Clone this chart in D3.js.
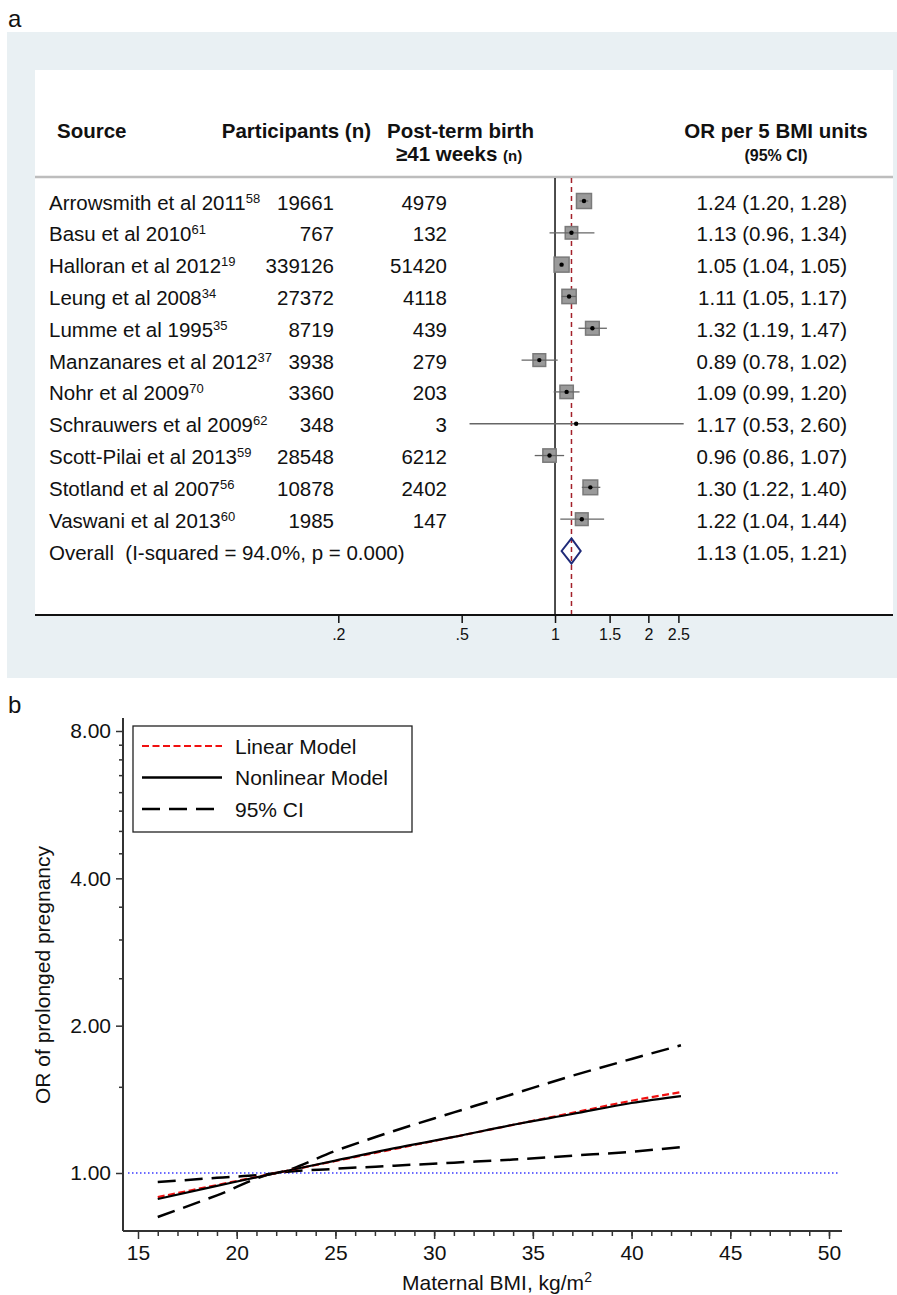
<!DOCTYPE html>
<html>
<head>
<meta charset="utf-8">
<script src="https://cdn.jsdelivr.net/npm/d3@7"></script>
<style>
  body { margin: 0; background: #fff; }
  svg text { font-family: "Liberation Sans", Arial, sans-serif; fill: #111; }
</style>
</head>
<body>
<svg id="chart"></svg>
<script>
// ---- panel a data (forest plot) ----
const studies = ['Arrowsmith et al 2011', 'Basu et al 2010', 'Halloran et al 2012', 'Leung et al 2008',
  'Lumme et al 1995', 'Manzanares et al 2012', 'Nohr et al 2009', 'Schrauwers et al 2009',
  'Scott-Pilai et al 2013', 'Stotland et al 2007', 'Vaswani et al 2013'];
const refs = ['58', '61', '19', '34', '35', '37', '70', '62', '59', '56', '60'];
const participants = [19661, 767, 339126, 27372, 8719, 3938, 3360, 348, 28548, 10878, 1985];
const postTerm = [4979, 132, 51420, 4118, 439, 279, 203, 3, 6212, 2402, 147];
const orEst = [1.24, 1.13, 1.05, 1.11, 1.32, 0.89, 1.09, 1.17, 0.96, 1.30, 1.22];
const ciLow = [1.20, 0.96, 1.04, 1.05, 1.19, 0.78, 0.99, 0.53, 0.86, 1.22, 1.04];
const ciHigh = [1.28, 1.34, 1.05, 1.17, 1.47, 1.02, 1.20, 2.60, 1.07, 1.40, 1.44];
const weights = [11.9, 8.2, 11.9, 10.8, 9.9, 8.5, 9.4, 0.1, 9.4, 11.4, 8.5];
const overall = { label: 'Overall  (I-squared = 94.0%, p = 0.000)', or: 1.13, lo: 1.05, hi: 1.21 };
const forestTicks = [0.2, 0.5, 1, 1.5, 2, 2.5];
const forestTickLabels = ['.2', '.5', '1', '1.5', '2', '2.5'];

// ---- panel b data (dose-response) ----
const bmi = [16, 19, 22, 25, 28, 31, 34, 37, 40, 42.5];
const linearOR = [0.893, 0.945, 1.0, 1.058, 1.12, 1.185, 1.254, 1.327, 1.405, 1.463];
const nonlinearOR = [0.885, 0.941, 1.0, 1.06, 1.124, 1.185, 1.255, 1.32, 1.39, 1.436];
const upperCI = [0.958, 0.978, 1.0, 1.11, 1.22, 1.33, 1.45, 1.58, 1.71, 1.824];
const lowerCI = [0.813, 0.90, 1.0, 1.02, 1.035, 1.05, 1.065, 1.085, 1.105, 1.13];
const yTicks = [1, 2, 4, 8];
const yMinorTicks = [1.5, 2.5, 3, 3.5, 4.5, 5, 5.5, 6, 6.5, 7, 7.5];
const xTicks = [15, 20, 25, 30, 35, 40, 45, 50];

const width = 897, height = 1295;
const svg = d3.select('#chart').attr('width', width).attr('height', height);
const fmt = d3.format('.2f');

function drawForest(svg) {
  svg.append('text').attr('x', 8).attr('y', 27).style('font-size', '24px').text('a');

  svg.append('rect').attr('x', 7).attr('y', 32).attr('width', 890).attr('height', 646).attr('fill', '#e9f0f3');
  svg.append('rect').attr('x', 35).attr('y', 70).attr('width', 858).attr('height', 545).attr('fill', '#fff');

  // header
  const head = svg.append('g').style('font-weight', 'bold').style('font-size', '20.5px');
  head.append('text').attr('x', 57).attr('y', 138).text('Source');
  head.append('text').attr('x', 371).attr('y', 138).attr('text-anchor', 'end').text('Participants (n)');
  head.append('text').attr('x', 387).attr('y', 138).text('Post-term birth');
  const wk = head.append('text').attr('x', 396).attr('y', 161);
  wk.append('tspan').text('≥41 weeks ');
  wk.append('tspan').style('font-size', '15px').text('(n)');
  head.append('text').attr('x', 776).attr('y', 138).attr('text-anchor', 'middle').text('OR per 5 BMI units');
  head.append('text').attr('x', 776).attr('y', 161).attr('text-anchor', 'middle').style('font-size', '16px').text('(95% CI)');

  svg.append('line').attr('x1', 35).attr('x2', 893).attr('y1', 177).attr('y2', 177)
    .attr('stroke', '#bdbdbd').attr('stroke-width', 2.5);

  const x = d3.scaleLog().domain([0.2, 2.5]).range([338.3, 678.4]);
  const y = d3.scalePoint().domain(d3.range(studies.length + 1)).range([201, 551]);
  const side = d3.scaleSqrt().domain([0, d3.max(weights)]).range([0, 15]);

  // reference lines
  svg.append('line').attr('x1', x(1)).attr('x2', x(1)).attr('y1', 178).attr('y2', 615)
    .attr('stroke', '#111').attr('stroke-width', 1.5);
  svg.append('line').attr('x1', x(overall.or)).attr('x2', x(overall.or)).attr('y1', 178).attr('y2', 615)
    .attr('stroke', '#a3202a').attr('stroke-width', 1.5).attr('stroke-dasharray', '5,4');

  const rows = svg.append('g').style('font-size', '20.5px');
  studies.forEach((name, i) => {
    const cy = y(i);
    const t = rows.append('text').attr('x', 49).attr('y', cy + 8.5);
    t.append('tspan').text(name);
    t.append('tspan').attr('dy', -7).style('font-size', '13px').text(refs[i]);
    rows.append('text').attr('x', 334).attr('y', cy + 8.5).attr('text-anchor', 'end').text(participants[i]);
    rows.append('text').attr('x', 447).attr('y', cy + 8.5).attr('text-anchor', 'end').text(postTerm[i]);
    rows.append('text').attr('x', 847).attr('y', cy + 8.5).attr('text-anchor', 'end')
      .text(`${fmt(orEst[i])} (${fmt(ciLow[i])}, ${fmt(ciHigh[i])})`);

    const s = side(weights[i]);
    if (s > 3) {
      svg.append('rect').attr('x', x(orEst[i]) - s / 2).attr('y', cy - s / 2).attr('width', s).attr('height', s)
        .attr('fill', '#9a9a9a').attr('stroke', '#7a7a7a').attr('stroke-width', 1.5);
    }
    svg.append('line').attr('x1', x(ciLow[i])).attr('x2', x(ciHigh[i])).attr('y1', cy).attr('y2', cy)
      .attr('stroke', '#666').attr('stroke-width', 1.3);
    svg.append('circle').attr('cx', x(orEst[i])).attr('cy', cy).attr('r', 2.2).attr('fill', '#000');
  });

  // overall
  const oy = y(studies.length);
  rows.append('text').attr('x', 49).attr('y', oy + 8.5).style('white-space', 'pre').text(overall.label);
  rows.append('text').attr('x', 847).attr('y', oy + 8.5).attr('text-anchor', 'end')
    .text(`${fmt(overall.or)} (${fmt(overall.lo)}, ${fmt(overall.hi)})`);
  const dia = [[x(overall.lo), oy], [x(overall.or), oy - 12.5], [x(overall.hi), oy], [x(overall.or), oy + 12.5]];
  svg.append('path').attr('d', d3.line()(dia) + 'Z')
    .attr('fill', 'none').attr('stroke', '#1f2a78').attr('stroke-width', 2);

  // axis
  svg.append('line').attr('x1', 35).attr('x2', 893).attr('y1', 615).attr('y2', 615)
    .attr('stroke', '#111').attr('stroke-width', 2);
  const ax = svg.append('g').attr('transform', 'translate(0,615)')
    .call(d3.axisBottom(x).tickValues(forestTicks).tickFormat((d, i) => forestTickLabels[i]).tickSize(8).tickPadding(6));
  ax.select('.domain').remove();
  ax.selectAll('line').attr('stroke', '#111').attr('stroke-width', 1.5);
  ax.selectAll('text').style('font-family', '"Liberation Sans Narrow", "Liberation Sans", Arial, sans-serif')
    .style('font-size', '16px').attr('fill', '#222');
}

function drawCurve(svg) {
  svg.append('text').attr('x', 8).attr('y', 713).style('font-size', '24px').text('b');

  const x = d3.scaleLinear().domain([15, 50]).range([138, 829]);
  const y = d3.scaleLog().domain([1, 8]).range([1173, 731]);

  // axes
  svg.append('line').attr('x1', 123).attr('x2', 123).attr('y1', 718).attr('y2', 1231)
    .attr('stroke', '#333').attr('stroke-width', 2);
  svg.append('line').attr('x1', 123).attr('x2', 842).attr('y1', 1231).attr('y2', 1231)
    .attr('stroke', '#333').attr('stroke-width', 2);

  const yAx = svg.append('g').attr('transform', 'translate(123,0)')
    .call(d3.axisLeft(y).tickValues(yTicks).tickFormat(d3.format('.2f')).tickSize(7).tickPadding(5));
  const yMin = svg.append('g').attr('transform', 'translate(123,0)')
    .call(d3.axisLeft(y).tickValues(yMinorTicks).tickFormat('').tickSize(4));
  const xAx = svg.append('g').attr('transform', 'translate(0,1231)')
    .call(d3.axisBottom(x).tickValues(xTicks).tickSize(8).tickPadding(6));
  const xMin = svg.append('g').attr('transform', 'translate(0,1231)')
    .call(d3.axisBottom(x).tickValues(d3.range(16, 51)).tickFormat('').tickSize(5));
  [yAx, yMin, xAx, xMin].forEach(g => {
    g.select('.domain').remove();
    g.selectAll('line').attr('stroke', '#333').attr('stroke-width', 1.5);
    g.selectAll('text').style('font-size', '21px').attr('fill', '#111');
  });

  svg.append('text').attr('transform', 'translate(50,975) rotate(-90)').attr('text-anchor', 'middle')
    .style('font-size', '21px').text('OR of prolonged pregnancy');
  const xt = svg.append('text').attr('x', 497).attr('y', 1290).attr('text-anchor', 'middle').style('font-size', '21px');
  xt.append('tspan').text('Maternal BMI, kg/m');
  xt.append('tspan').attr('dy', -8).style('font-size', '14px').text('2');

  // reference line at OR = 1
  svg.append('line').attr('x1', 128).attr('x2', 840).attr('y1', y(1)).attr('y2', y(1))
    .attr('stroke', '#3a3aff').attr('stroke-width', 1.6).attr('stroke-dasharray', '1.5,2.5');

  const line = d3.line().x(d => x(d[0])).y(d => y(d[1])).curve(d3.curveMonotoneX);
  const series = [
    { vals: upperCI, color: '#000', w: 2.5, dash: '18,9' },
    { vals: lowerCI, color: '#000', w: 2.5, dash: '18,9' },
    { vals: linearOR, color: '#f01010', w: 2.2, dash: '7,3.5' },
    { vals: nonlinearOR, color: '#000', w: 2.2, dash: null }
  ];
  series.forEach(s => {
    svg.append('path').datum(bmi.map((b, i) => [b, s.vals[i]]))
      .attr('d', line).attr('fill', 'none').attr('stroke', s.color)
      .attr('stroke-width', s.w).attr('stroke-dasharray', s.dash);
  });

  // legend
  const lg = svg.append('g');
  lg.append('rect').attr('x', 133).attr('y', 726).attr('width', 279).attr('height', 106)
    .attr('fill', '#fff').attr('stroke', '#222').attr('stroke-width', 1.3);
  const items = [
    { label: 'Linear Model', color: '#f01010', dash: '7,3.5', w: 2 },
    { label: 'Nonlinear Model', color: '#000', dash: null, w: 2.5 },
    { label: '95% CI', color: '#000', dash: '18,9', w: 2.5 }
  ];
  items.forEach((it, i) => {
    const ly = 746 + i * 31.5;
    lg.append('line').attr('x1', 142).attr('x2', 222).attr('y1', ly).attr('y2', ly)
      .attr('stroke', it.color).attr('stroke-width', it.w).attr('stroke-dasharray', it.dash);
    lg.append('text').attr('x', 235).attr('y', ly + 7.5).style('font-size', '21px').text(it.label);
  });
}

drawForest(svg);
drawCurve(svg);
</script>
</body>
</html>
